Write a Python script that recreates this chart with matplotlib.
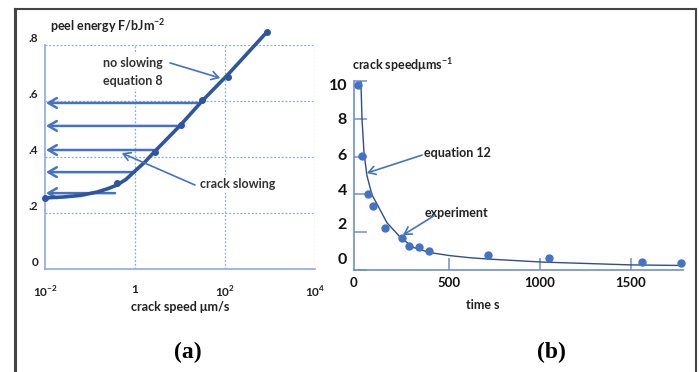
import numpy as np
import matplotlib
matplotlib.use("Agg")
import matplotlib.pyplot as plt
from matplotlib.lines import Line2D
from matplotlib.transforms import ScaledTranslation

plt.rcParams["font.family"] = ["Lato", "DejaVu Sans"]
plt.rcParams["mathtext.fontset"] = "custom"
plt.rcParams["mathtext.rm"] = "Lato:bold"
plt.rcParams["mathtext.bf"] = "Lato:bold"

# -----------------------
# Panel (a): peel energy vs crack speed
# -----------------------
speed_curve = [0.01, 0.025, 0.063, 0.145, 0.25, 0.40, 0.63, 1.0, 1.66, 2.75,
               10.0, 31.0, 117.0, 850.0]
energy_curve = [0.254, 0.257, 0.263, 0.275, 0.287, 0.300, 0.320, 0.350, 0.382,
                0.420, 0.512, 0.600, 0.695, 0.846]
speed_dots = [0.01, 0.40, 2.75, 10.5, 31.0, 117.0, 850.0]
energy_dots = [0.254, 0.307, 0.418, 0.514, 0.604, 0.686, 0.846]
# horizontal "slowing" arrows: level and start speed
arrow_levels = [0.593, 0.511, 0.425, 0.346, 0.271]
arrow_starts = [29.0, 11.7, 2.75, 1.0, 0.36]
a_xticks = [0.01, 1, 100, 10000]
a_xticklabels = [r"10$^{-2}$", "1", r"10$^{2}$", r"10$^{4}$"]
a_yticks = [0, 0.2, 0.4, 0.6, 0.8]
a_yticklabels = ["0", ".2", ".4", ".6", ".8"]

# -----------------------
# Panel (b): crack speed vs time
# -----------------------
time_exp = [0, 22, 55, 82, 148, 242, 280, 335, 390, 714, 1049, 1560, 1775]
speed_exp = [9.8, 6.03, 4.02, 3.39, 2.22, 1.70, 1.27, 1.22, 1.0, 0.79, 0.63, 0.42, 0.37]
time_eq = [16, 22, 33, 49, 77, 104, 159, 231, 302, 396, 505, 615, 714, 1011, 1500, 1775]
speed_eq = [9.95, 8.0, 6.2, 5.0, 3.97, 3.5, 2.5, 1.75, 1.2, 0.92, 0.76, 0.65, 0.58,
            0.42, 0.27, 0.24]
b_xticks = [0, 500, 1000, 1500]
b_yticks = [0, 2, 4, 6, 8, 10]

dark = "#2F55A0"
mid = "#4472C4"
light = "#8EA9DB"
W, H = 699, 372

fig = plt.figure(figsize=(W / 100, H / 100), dpi=100)

# ---- panel (a)
ax = fig.add_axes([45 / W, 1 - 269 / H, 270 / W, 224 / H])
ax.set_xscale("log")
ax.set_xlim(0.01, 1e4)
ax.set_ylim(0, 0.8)
for s in ["top", "right"]:
    ax.spines[s].set_visible(False)
for s in ["left", "bottom"]:
    ax.spines[s].set_color(light)
    ax.spines[s].set_linewidth(1.2)
ax.set_xticks(a_xticks)
ax.set_xticklabels(a_xticklabels)
ax.minorticks_off()
ax.set_yticks(a_yticks)
ax.set_yticklabels(a_yticklabels)
ax.tick_params(length=0, labelsize=8.5, colors="#222222")
ax.tick_params(axis="x", pad=11)
ax.tick_params(axis="y", pad=5)
for lab in ax.get_yticklabels() + ax.get_xticklabels():
    lab.set_fontweight("bold")
for lab in ax.get_yticklabels():
    lab.set_transform(lab.get_transform() + ScaledTranslation(0, 7 / 100, fig.dpi_scale_trans))
for v in a_yticks[1:]:
    ax.plot([0.01, 1e4], [v, v], ls=(0, (1.5, 1.5)), color=light, lw=0.9, zorder=1)
for xv in a_xticks[1:]:
    ax.plot([xv, xv], [0, 0.8], ls=(0, (1.5, 1.5)), color=light, lw=0.9, zorder=1)

for lv, st in zip(arrow_levels, arrow_starts):
    ax.annotate("", xy=(0.0105, lv), xytext=(st, lv),
                arrowprops=dict(arrowstyle="->,head_length=0.6,head_width=0.35",
                                color=mid, lw=1.8, shrinkA=0, shrinkB=0), zorder=3)
ax.plot(speed_curve, energy_curve, color=dark, lw=2.6, clip_on=False, zorder=4,
        solid_capstyle="round")
ax.plot(speed_dots, energy_dots, "o", color=dark, ms=4, clip_on=False, zorder=5)

ax.text(0.91, 0.704, "no slowing\nequation 8", ha="center", va="center", fontsize=9,
        fontweight="bold", color="#333333", linespacing=1.55,
        bbox=dict(fc="white", ec="none", pad=2), zorder=2)
ax.annotate("", xy=(78, 0.682), xytext=(6.0, 0.736),
            arrowprops=dict(arrowstyle="->,head_length=0.5,head_width=0.3",
                            color=mid, lw=1.2, shrinkA=0, shrinkB=0), zorder=6)
ax.text(195, 0.304, "crack slowing", ha="center", va="center", fontsize=9,
        fontweight="bold", color="#333333",
        bbox=dict(fc="white", ec="none", pad=2), zorder=2)
ax.annotate("", xy=(0.51, 0.414), xytext=(21.5, 0.30),
            arrowprops=dict(arrowstyle="->,head_length=0.5,head_width=0.3",
                            color=mid, lw=1.2, shrinkA=0, shrinkB=0), zorder=6)
ax.text(0.02, 1.085, r"peel energy F/bJm$^{-2}$", transform=ax.transAxes, fontsize=9,
        fontweight="bold", color="#222222", va="center")
ax.text(0.5, -0.17, "crack speed μm/s", transform=ax.transAxes, ha="center", va="center",
        fontsize=9, fontweight="bold", color="#222222")

# ---- panel (b)
bx = fig.add_axes([354 / W, 1 - 270 / H, 329 / W, 189 / H])
bx.set_xlim(-22, 1786)
bx.set_ylim(0, 10)
for s in ["top", "right"]:
    bx.spines[s].set_visible(False)
for s in ["left", "bottom"]:
    bx.spines[s].set_color("#6D8FD3")
    bx.spines[s].set_linewidth(1.2)
bx.set_xticks(b_xticks)
bx.set_yticks(b_yticks)
bx.tick_params(direction="in", length=9, width=1.1, color="#6D8FD3")
bx.tick_params(axis="y", labelsize=11.5, pad=5)
bx.tick_params(axis="x", labelsize=9.5, pad=5)
bx.xaxis.get_major_ticks()[0].tick1line.set_visible(False)
for lab in bx.get_yticklabels() + bx.get_xticklabels():
    lab.set_fontweight("bold")
    lab.set_color("#111111")
y_shift = [11, 9, 5, 2, 0, -3]
for lab, dy in zip(bx.get_yticklabels(), y_shift):
    lab.set_transform(lab.get_transform() + ScaledTranslation(0, dy / 100, fig.dpi_scale_trans))
bx.get_xticklabels()[0].set_transform(
    bx.get_xticklabels()[0].get_transform() + ScaledTranslation(-5 / 100, 0, fig.dpi_scale_trans))

bx.plot(time_eq, speed_eq, color="#2E4E8E", lw=1.0, zorder=3, clip_on=False)
bx.plot(time_exp, speed_exp, "o", color=mid, ms=5, zorder=4, clip_on=False)
bx.text(544, 6.19, "equation 12", ha="center", va="center", fontsize=9,
        fontweight="bold", color="#222222")
bx.annotate("", xy=(49, 5.13), xytext=(352, 6.08),
            arrowprops=dict(arrowstyle="->,head_length=0.5,head_width=0.3",
                            color=mid, lw=1.2, shrinkA=0, shrinkB=0))
bx.text(544, 3.0, "experiment", ha="center", va="center", fontsize=9,
        fontweight="bold", color="#222222")
bx.annotate("", xy=(247, 1.85), xytext=(423, 2.9),
            arrowprops=dict(arrowstyle="->,head_length=0.5,head_width=0.3",
                            color=mid, lw=1.2, shrinkA=0, shrinkB=0))
bx.text(-0.005, 1.085, r"crack speedμms$^{-1}$", transform=bx.transAxes, fontsize=9,
        fontweight="bold", color="#222222", va="center")
bx.text(0.39, -0.185, "time s", transform=bx.transAxes, ha="center", va="center",
        fontsize=9, fontweight="bold", color="#222222")

# ---- panel labels and outer frame
fig.text(188 / W, 1 - 352 / H, "(a)", ha="center", va="center", fontsize=17,
         fontweight="bold", family="Liberation Serif")
fig.text(551 / W, 1 - 352 / H, "(b)", ha="center", va="center", fontsize=17,
         fontweight="bold", family="Liberation Serif")
frame_c = "#444444"
fig.add_artist(Line2D([15 / W, 15 / W], [0, 1 - 9 / H], transform=fig.transFigure,
                      color=frame_c, lw=2.2))
fig.add_artist(Line2D([15 / W, 696 / W], [1 - 9 / H, 1 - 9 / H], transform=fig.transFigure,
                      color=frame_c, lw=1.5))
fig.add_artist(Line2D([696 / W, 696 / W], [0, 1 - 9 / H], transform=fig.transFigure,
                      color=frame_c, lw=1.5))

fig.savefig("out.png", dpi=100)
